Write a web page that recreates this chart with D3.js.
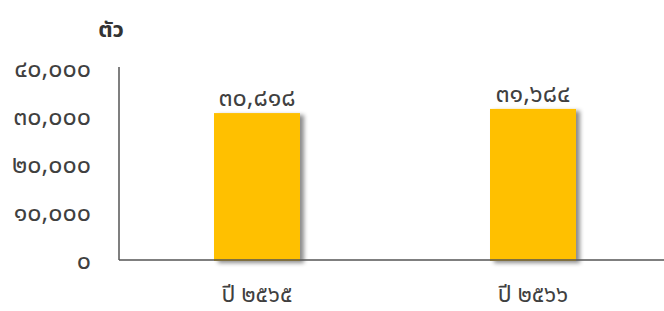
<!DOCTYPE html>
<html><head><meta charset="utf-8">
<script src="https://cdn.jsdelivr.net/npm/d3@7"></script>
<style>html,body{margin:0;padding:0;background:#fff;}svg{display:block;}</style>
</head><body>
<svg id="c" width="664" height="311"></svg>
<script>
const categories = ["ปี ๒๕๖๕", "ปี ๒๕๖๖"];
const values = [30818, 31684];
const valueLabels = ["๓๐,๘๑๘", "๓๑,๖๘๔"];
const tickValues = [0, 10000, 20000, 30000, 40000];
const tickLabels = ["๐", "๑๐,๐๐๐", "๒๐,๐๐๐", "๓๐,๐๐๐", "๔๐,๐๐๐"];
const unitTitle = "ตัว";

const svg = d3.select("#c");
const font = "Tahoma, 'Noto Sans Thai', 'Noto Sans', sans-serif";
const pLeft = 119, pRight = 671, pTop = 69, pBottom = 261;
const y = d3.scaleLinear().domain([0, 40000]).range([pBottom, pTop]);
const x = d3.scaleBand().domain(categories).range([pLeft, pRight]).padding(0);
const barW = 86;

const defs = svg.append("defs");
const f = defs.append("filter").attr("id","sh").attr("x","-10%").attr("y","-10%").attr("width","130%").attr("height","130%");
f.append("feDropShadow").attr("dx",4).attr("dy",2).attr("stdDeviation",2).attr("flood-color","#000").attr("flood-opacity",0.45);

svg.append("text").attr("x",111).attr("y",37).attr("text-anchor","middle")
  .attr("font-family",font).attr("font-weight","bold").attr("font-size",22).attr("fill","#333").text(unitTitle);

svg.selectAll(".yt").data(tickValues).enter().append("text")
  .attr("x",91).attr("y",d=>y(d)).attr("dy","0.3em").attr("text-anchor","end")
  .attr("font-family",font).attr("font-size",25).attr("fill","#404040")
  .text((d,i)=>tickLabels[i]);

svg.selectAll(".bar").data(values).enter().append("rect")
  .attr("x",(d,i)=>x(categories[i]) + x.bandwidth()/2 - barW/2)
  .attr("y",d=>y(d)).attr("width",barW).attr("height",d=>y(0)-y(d))
  .attr("fill","#FFC000").attr("filter","url(#sh)");

svg.append("line").attr("x1",pLeft).attr("x2",pLeft).attr("y1",67).attr("y2",y(0)-1).attr("stroke","#555").attr("stroke-width",1.5);
svg.append("line").attr("x1",pLeft).attr("x2",664).attr("y1",y(0)-1).attr("y2",y(0)-1).attr("stroke","#555").attr("stroke-width",1.5);

svg.selectAll(".vl").data(values).enter().append("text")
  .attr("x",(d,i)=>x(categories[i]) + x.bandwidth()/2)
  .attr("y",d=>y(d)-7).attr("text-anchor","middle")
  .attr("font-family",font).attr("font-size",25).attr("fill","#404040")
  .text((d,i)=>valueLabels[i]);

svg.selectAll(".cl").data(categories).enter().append("text")
  .attr("x",d=>x(d)+x.bandwidth()/2).attr("y",302).attr("text-anchor","middle")
  .attr("font-family",font).attr("font-size",23).attr("fill","#404040")
  .text(d=>d);
</script>
</body></html>
